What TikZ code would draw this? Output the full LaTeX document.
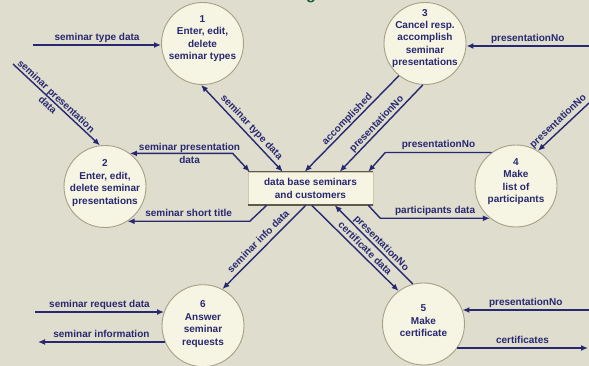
\documentclass[tikz,border=0pt]{standalone}
\usepackage{fontspec}
\setmainfont{Liberation Sans}
\usetikzlibrary{arrows.meta,calc}
\definecolor{bg}{RGB}{223,221,206}
\definecolor{ink}{RGB}{40,40,112}
\definecolor{bubble}{RGB}{246,244,226}
\definecolor{rim}{RGB}{165,160,135}
\definecolor{storeside}{RGB}{205,200,178}
\definecolor{storeline}{RGB}{95,90,75}
\definecolor{titlegreen}{RGB}{25,95,55}

\begin{document}
\begin{tikzpicture}[x=1pt,y=-1pt,
  lbl/.style={font=\bfseries\fontsize{10}{12.4}\selectfont, text=ink},
  proc/.style={circle, draw=rim, line width=0.9pt, fill=bubble, minimum size=82pt, inner sep=0pt},
  ptext/.style={lbl, align=center, inner sep=0pt},
  storebox/.style={lbl, align=center, fill=bubble, draw=storeside, line width=0.6pt,
    minimum width=125pt, minimum height=33pt, inner sep=0pt},
  flow/.style={draw=ink, line width=1.4pt, -{Latex[length=7pt,width=6pt]}},
  biflow/.style={draw=ink, line width=1.4pt, {Latex[length=7pt,width=6pt]}-{Latex[length=7pt,width=6pt]}},
  tag/.style={lbl, inner sep=2pt, text depth=2.2pt},
  tighttag/.style={tag, inner sep=0.6pt},
  tagtwo/.style={lbl, inner sep=0pt, align=center},
]
% canvas
\useasboundingbox (0,0) rectangle (589,366);
\fill[bg] (0,0) rectangle (589,366);

% cut-off heading
\node[font=\bfseries\fontsize{16}{16}\selectfont, text=titlegreen, anchor=base, inner sep=0pt] (ttl) at (311,-0.5) {g};

% processes
\node[proc] (c1) at (202.5,43.5) {};
\node[ptext] (c1t) at (202.5,38.5) {1\\Enter, edit,\\delete\\seminar types};
\node[proc] (c2) at (105,186.5) {};
\node[ptext] (c2t) at (105,183) {2\\Enter, edit,\\delete seminar\\presentations};
\node[proc] (c3) at (425,43.5) {};
\node[ptext] (c3t) at (425,38.5) {3\\Cancel resp.\\accomplish\\seminar\\presentations};
\node[proc] (c4) at (516,186) {};
\node[ptext] (c4t) at (516,181.5) {4\\Make\\list of\\participants};
\node[proc] (c5) at (423.5,324) {};
\node[ptext] (c5t) at (423.5,321) {5\\Make\\certificate};
\node[proc] (c6) at (203,325.7) {};
\node[ptext] (c6t) at (203,324) {6\\Answer\\seminar\\requests};

% data store
\node[storebox] (store) at (310.5,188.5) {data base seminars\\and customers};
\draw[storeline, line width=1.6pt] (store.north west) -- (store.north east);
\draw[storeline, line width=1.6pt] (store.south west) -- (store.south east);

% external ends
\coordinate (e1) at (33,45);
\coordinate (e2) at (13,64);
\coordinate (e3) at (589,46);
\coordinate (e4) at (589,103);
\coordinate (e5) at (589,310);
\coordinate (e6) at (588,348);
\coordinate (e7) at (35,312);
\coordinate (e8) at (38,342);

% bends
\coordinate (k1) at ($(store.south west)+(2,16)$);
\coordinate (k2a) at (c2.53 -| store.north west);
\coordinate (k2) at ($(k2a)+(-15,0)$);
\coordinate (k3a) at (c4.126 -| store.north east);
\coordinate (k3) at ($(k3a)+(12,0)$);
\coordinate (k4) at ($(store.south east)+(7,13)$);

% flows around process 1
\draw[flow] (e1) -- node[tag, above] {seminar type data} (e1 -| c1.west);
\draw[biflow] (c1.-92) -- node[tag, sloped, above, pos=0.55] {seminar type data} ($(store.north west)+(35,0)$);

% flows around process 2
\draw[flow] (e2) -- node[tagtwo, sloped, pos=0.45] {seminar presentation\\data} (c2.97);
\draw[biflow] (c2.53) -- node[tagtwo, pos=0.58] {seminar presentation\\data} (k2) -- ($(store.north west)+(2,0)$);
\draw[flow] ($(store.south west)+(19,0)$) -- (k1) -- node[tag, above] {seminar short title} (k1 -| c2.-57);

% flows around process 3
\draw[flow] (e3) -- node[tag, above] {presentationNo} (e3 -| c3.east);
\draw[flow] (c3.231) -- node[tighttag, sloped, above] {accomplished} ($(store.north west)+(57,0)$);
\draw[flow] (c3.-93) -- node[tighttag, sloped, above] {presentationNo} ($(store.north west)+(92,0)$);

% flows around process 4
\draw[flow] (e4) -- node[tag, sloped, above] {presentationNo} (c4.58);
\draw[flow] (c4.126) -- node[tag, above] {presentationNo} (k3) -- ($(store.north east)+(-5,0)$);
\draw[flow] ($(store.south east)+(-5,0)$) -- (k4) -- node[tag, above] {participants data} (k4 -| c4.-129);

% flows around process 5
\draw[flow] ($(store.south west)+(64,0)$) -- node[tighttag, sloped, above, pos=0.56] {certificate data} (c5.127);
\draw[flow] (c5.105) -- node[tighttag, sloped, above, pos=0.46] {presentationNo} ($(store.south west)+(87,0)$);
\draw[flow] (e5) -- node[tag, above] {presentationNo} (e5 -| c5.20);
\draw[flow] (e6 -| c5.-36) -- node[tag, above] {certificates} (e6);

% flows around process 6
\draw[flow] ($(store.south west)+(58,0)$) -- node[tag, sloped, above] {seminar info data} (c6.62);
\draw[flow] (e7) -- node[tag, above] {seminar request data} (e7 -| c6.160);
\draw[flow] (e8 -| c6.203) -- node[tag, above] {seminar information} (e8);
\end{tikzpicture}
\end{document}
